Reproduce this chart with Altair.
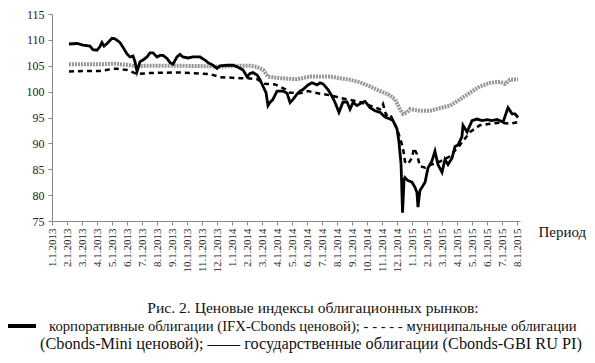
import altair as alt
import pandas as pd

# months since 1.1.2013
corp_t = [1.13, 1.67, 2.07, 2.53, 2.73, 3.0, 3.2, 3.33, 3.47, 3.67, 4.0, 4.2, 4.53, 4.73, 5.0, 5.2, 5.4, 5.53, 5.67, 5.87,
          6.07, 6.33, 6.53, 6.73, 7.0, 7.2, 7.4, 7.67, 7.87, 8.07, 8.33, 8.53, 8.73, 9.07, 9.4, 9.87, 10.2, 10.4, 10.73, 11.0,
          11.2, 11.67, 12.07, 12.4, 12.73, 13.0, 13.2, 13.4, 13.67, 13.87, 14.07, 14.27, 14.4, 14.53, 14.73, 15.0, 15.4, 15.67,
          15.87, 16.07, 16.33, 16.53, 16.73, 17.07, 17.33, 17.67, 17.87, 18.07, 18.4, 18.67, 18.87, 19.13, 19.4, 19.67, 19.87,
          20.07, 20.33, 20.67, 20.87, 21.2, 21.53, 21.87, 22.2, 22.53, 22.73, 23.0, 23.13, 23.27, 23.37, 23.47, 23.53, 23.73,
          24.0, 24.2, 24.33, 24.4, 24.47, 24.53, 24.73, 24.87, 25.07, 25.33, 25.53, 25.73, 26.0, 26.2, 26.4, 26.67, 26.87,
          27.07, 27.33, 27.4, 27.67, 28.0, 28.33, 28.67, 29.0, 29.33, 29.67, 30.07, 30.4, 30.67, 30.87, 31.07]
corp_v = [109.2, 109.3, 109.0, 108.8, 108.1, 108.0, 108.7, 109.5, 108.8, 109.3, 110.3, 110.2, 109.5, 108.6, 107.3, 106.7,
          106.9, 105.8, 103.9, 105.8, 106.1, 106.7, 107.5, 107.5, 106.7, 107.0, 107.0, 106.4, 105.6, 105.3, 106.7, 107.2,
          106.7, 106.5, 106.7, 106.7, 106.1, 105.6, 105.1, 104.5, 105.0, 105.1, 105.1, 104.7, 104.2, 102.9, 103.5, 103.7,
          103.2, 102.3, 101.0, 99.8, 97.3, 97.9, 98.5, 100.1, 100.1, 99.7, 97.9, 98.5, 99.5, 100.1, 100.4, 101.3, 101.7,
          101.3, 101.7, 101.5, 100.4, 99.1, 97.9, 96.0, 98.0, 98.0, 96.6, 97.9, 97.3, 97.9, 98.1, 96.9, 96.3, 96.0, 95.1,
          94.7, 94.4, 92.8, 90.3, 86.0, 76.6, 83.0, 83.4, 82.8, 82.5, 81.5, 80.5, 77.7, 79.5, 80.9, 81.8, 82.5, 85.3, 86.6,
          88.5, 85.9, 84.4, 86.9, 85.9, 87.2, 89.4, 89.7, 91.3, 93.5, 92.2, 94.4, 94.7, 94.4, 94.6, 94.4, 94.6, 94.1, 96.9,
          95.7, 95.7, 95.0]

muni_t = [1.13, 2.2, 3.2, 4.07, 4.33, 5.0, 5.67, 6.53, 8.53, 10.53, 11.2, 12.53, 13.07, 13.67, 14.2, 14.87, 15.53, 15.87,
          16.53, 17.07, 17.53, 17.87, 18.53, 19.2, 19.87, 20.53, 21.2, 21.87, 22.07, 22.27, 22.53, 23.0, 23.2, 23.4, 23.53,
          23.73, 24.0, 24.13, 24.33, 24.53, 24.87, 25.2, 25.87, 26.53, 27.2, 27.87, 28.53, 29.2, 29.87, 30.53, 31.07]
muni_v = [103.9, 104.0, 104.0, 104.4, 104.4, 104.2, 103.4, 103.6, 103.7, 103.4, 102.8, 102.6, 102.6, 102.4, 101.5, 101.4,
          100.5, 99.8, 99.7, 100.1, 99.8, 99.6, 99.3, 98.8, 98.4, 98.0, 97.3, 96.6, 97.6, 95.5, 95.7, 92.8, 91.0, 89.1,
          86.5, 86.0, 87.2, 89.1, 87.9, 85.6, 85.3, 85.8, 86.5, 87.5, 89.7, 92.2, 93.5, 93.8, 94.0, 93.8, 94.1]

gov_t = [1.13, 3.2, 4.2, 5.2, 5.67, 6.2, 8.53, 10.53, 11.2, 12.2, 13.2, 13.67, 14.07, 14.4, 15.2, 16.33, 17.2, 18.53,
         19.2, 19.87, 20.53, 21.2, 21.87, 22.4, 22.87, 23.2, 23.4, 23.67, 23.87, 24.53, 25.2, 25.87, 26.53, 27.2, 27.87,
         28.53, 29.2, 29.87, 30.2, 30.53, 31.07]
gov_v = [105.3, 105.3, 105.4, 105.1, 104.8, 105.0, 105.0, 104.9, 104.8, 105.0, 105.0, 104.8, 104.2, 102.9, 102.6, 102.4,
         102.9, 102.9, 102.6, 102.3, 101.8, 101.0, 100.1, 99.5, 98.5, 96.6, 95.7, 96.0, 96.6, 96.3, 96.3, 96.8, 97.3, 98.5,
         99.8, 101.0, 101.7, 101.9, 101.5, 102.3, 102.4]

y_ticks = [75, 80, 85, 90, 95, 100, 105, 110, 115]
x_ticks = list(range(32))

caption1 = "Рис. 2. Ценовые индексы облигационных рынков:"
caption2 = "корпоративные облигации (IFX-Cbonds ценовой);  - - - - - муниципальные облигации"
caption3 = "(Cbonds-Mini ценовой); —— государственные облигации (Cbonds-GBI RU PI)"
x_title = "Период"

FONT = "Liberation Serif"
W, H = 468, 207

corp = pd.DataFrame({"t": corp_t, "v": corp_v})
muni = pd.DataFrame({"t": muni_t, "v": muni_v})
gov = pd.DataFrame({"t": gov_t, "v": gov_v})

xscale = alt.Scale(domain=[0, 31.2], nice=False, zero=False)
yscale = alt.Scale(domain=[75, 115], nice=False, zero=False)

xaxis = alt.Axis(values=x_ticks, labelAngle=270, labelAlign="right", labelBaseline="middle",
                 labelExpr="((datum.value % 12) + 1) + '.1.' + (2013 + floor(datum.value / 12))",
                 labelFont=FONT, labelFontSize=11, labelColor="#222", labelPadding=3,
                 tickSize=4, tickColor="#888", domainColor="#888", grid=False,
                 title=x_title, titleFont=FONT, titleFontSize=15, titleFontWeight="normal",
                 titleColor="#111", titleX=486, titleY=15, titleAlign="left", titleBaseline="alphabetic",
                 titleAngle=0, labelOverlap=False, labelBound=False, labelFlush=False)
yaxis = alt.Axis(values=y_ticks, labelFont=FONT, labelFontSize=12, labelColor="#222", labelPadding=4,
                 tickSize=4, tickColor="#888", domainColor="#888", grid=False, title=None,
                 labelOverlap=False, labelBound=False, labelFlush=False)

base_x = alt.X("t:Q", scale=xscale, axis=xaxis)
base_y = alt.Y("v:Q", scale=yscale, axis=yaxis)

gov_line = alt.Chart(gov).mark_line(color="#969696", strokeWidth=4, strokeDash=[2, 1]).encode(x=base_x, y=base_y)
muni_line = alt.Chart(muni).mark_line(color="#000", strokeWidth=2.5, strokeDash=[5, 4]).encode(x=base_x, y=base_y)
corp_line = alt.Chart(corp).mark_line(color="#000", strokeWidth=2.8).encode(x=base_x, y=base_y)

one = pd.DataFrame({"a": [0]})
cap1 = alt.Chart(one).mark_text(font=FONT, fontSize=15.6, align="center", baseline="alphabetic", color="#111").encode(
    x=alt.value(261), y=alt.value(299), text=alt.value(caption1))
cap2 = alt.Chart(one).mark_text(font=FONT, fontSize=14.7, align="left", baseline="alphabetic", color="#111").encode(
    x=alt.value(-3), y=alt.value(317), text=alt.value(caption2))
cap3 = alt.Chart(one).mark_text(font=FONT, fontSize=16.3, align="left", baseline="alphabetic", color="#111").encode(
    x=alt.value(-12), y=alt.value(335), text=alt.value(caption3))
sym = alt.Chart(one).mark_rule(color="#000", strokeWidth=4).encode(
    x=alt.value(-45), x2=alt.value(-16), y=alt.value(312))

chart = alt.layer(gov_line, muni_line, corp_line, cap1, cap2, cap3, sym).properties(
    width=W, height=H,
    autosize=alt.AutoSizeParams(type="none"),
    padding={"left": 44, "top": 6, "right": 67, "bottom": 134},
).configure_view(stroke=None)

chart.save("out.html", embed_options={"renderer": "svg", "actions": False})
